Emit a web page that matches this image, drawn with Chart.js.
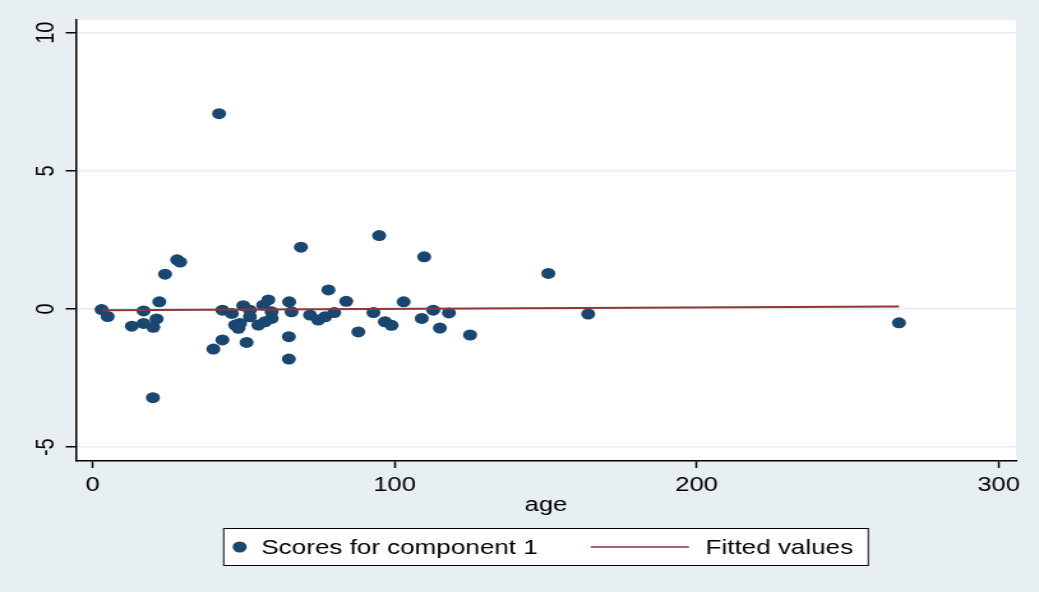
<!DOCTYPE html>
<html>
<head>
<meta charset="utf-8">
<script src="https://cdn.jsdelivr.net/npm/chart.js@4/dist/chart.umd.min.js"></script>
<style>
  html, body { margin: 0; padding: 0; background: #e8eff2; overflow: hidden; }
</style>
</head>
<body>
<!-- laid out at 814 px, shown 1039 px wide (a 5.5 x 4 in graph on a wide page) -->
<canvas id="c" width="814" height="592" style="display:block;width:1039px;height:592px"></canvas>
<script>
// --- data -------------------------------------------------------------
const ages = [3.0, 5.0, 13.0, 16.9, 16.9, 20.1, 21.2, 20.0, 22.1, 24.0,
              28.0, 29.0, 40.0, 41.9, 43.0, 43.0, 46.1, 47.2, 48.3, 48.8,
              51.0, 49.9, 52.1, 52.1, 54.9, 57.1, 56.5, 58.2, 59.3, 59.3,
              65.1, 65.9, 65.0, 65.0, 69.0, 72.0, 74.7, 77.0, 78.1, 80.0,
              84.0, 88.0, 93.0, 94.9, 96.8, 99.0, 103.0, 109.0, 109.8, 112.8,
              115.0, 118.0, 125.0, 150.9, 164.1, 267.0];
const scores = [-0.02, -0.27, -0.62, -0.07, -0.52, -0.66, -0.36, -3.21, 0.26, 1.26,
                1.78, 1.70, -1.45, 7.07, -0.04, -1.12, -0.16, -0.58, -0.70, -0.52,
                -1.21, 0.12, -0.04, -0.28, -0.58, -0.46, 0.14, 0.33, -0.10, -0.34,
                0.26, -0.10, -1.00, -1.81, 2.24, -0.22, -0.40, -0.28, 0.69, -0.13,
                0.28, -0.83, -0.13, 2.66, -0.46, -0.59, 0.26, -0.34, 1.89, -0.04,
                -0.69, -0.14, -0.94, 1.29, -0.18, -0.50];
const fitAges = [3, 267];
const fitValues = [-0.04, 0.09];
const xTicks = [0, 100, 200, 300];
const yTicks = [-5, 0, 5, 10];
const seriesNames = ['Scores for component 1', 'Fitted values'];
const xTitle = 'age';

// --- style ------------------------------------------------------------
const NAVY = '#1a476f';
const MAROON = '#90353b';
const PAGE_BG = '#e8eff2';
const GRID = '#e5edf0';
const FONT = '"Liberation Sans", Arial, Helvetica, sans-serif';
const FONT_SIZE = 20;

const scatterPts = ages.map((a, i) => ({ x: a, y: scores[i] }));
const fitPts = fitAges.map((a, i) => ({ x: a, y: fitValues[i] }));

// page background + white plot region
const backdrop = {
  id: 'backdrop',
  beforeDraw(chart) {
    const { ctx, chartArea: a } = chart;
    ctx.save();
    ctx.fillStyle = PAGE_BG;
    ctx.fillRect(0, 0, chart.width, chart.height);
    ctx.fillStyle = '#ffffff';
    ctx.fillRect(a.left, a.top, a.right - a.left, a.bottom - a.top);
    ctx.restore();
  }
};

// vertical (rotated) y tick labels, placed by the y scale
const yLabels = {
  id: 'yLabels',
  afterDraw(chart) {
    const { ctx } = chart;
    const y = chart.scales.y;
    ctx.save();
    ctx.fillStyle = '#000';
    ctx.font = `${FONT_SIZE}px ${FONT}`;
    ctx.textAlign = 'center';
    ctx.textBaseline = 'alphabetic';
    y.ticks.forEach(t => {
      const py = y.getPixelForValue(t.value);
      ctx.save();
      ctx.translate(42, py);
      ctx.rotate(-Math.PI / 2);
      ctx.fillText(String(t.value), 0, 0);
      ctx.restore();
    });
    ctx.restore();
  }
};

// boxed legend below the axis title
const boxLegend = {
  id: 'boxLegend',
  afterDraw(chart) {
    const { ctx, chartArea: a } = chart;
    const ds = chart.data.datasets;
    const w = 506, h = 38, top = 528;
    const left = (a.left + a.right) / 2 - w / 2;
    ctx.save();
    ctx.fillStyle = '#ffffff';
    ctx.fillRect(left, top, w, h);
    ctx.strokeStyle = '#000';
    ctx.lineWidth = 1;
    ctx.strokeRect(left + 0.5, top + 0.5, w - 1, h - 1);
    const cy = top + h / 2;
    ctx.font = `${FONT_SIZE + 0.4}px ${FONT}`;
    ctx.fillStyle = '#000';
    ctx.textAlign = 'left';
    ctx.textBaseline = 'alphabetic';
    // marker entry
    ctx.beginPath();
    ctx.arc(left + 13, cy, 5.5, 0, Math.PI * 2);
    ctx.fillStyle = ds[0].backgroundColor;
    ctx.fill();
    ctx.fillStyle = '#000';
    ctx.fillText(ds[0].label, left + 30, cy + 7);
    // line entry
    ctx.beginPath();
    ctx.moveTo(left + 288, cy);
    ctx.lineTo(left + 365, cy);
    ctx.strokeStyle = ds[1].borderColor;
    ctx.lineWidth = 1.5;
    ctx.stroke();
    ctx.fillText(ds[1].label, left + 378, cy + 7);
    ctx.restore();
  }
};

const canvas = document.getElementById('c');
new Chart(canvas, {
  type: 'scatter',
  data: {
    datasets: [
      {
        label: seriesNames[0],
        data: scatterPts,
        backgroundColor: NAVY,
        borderColor: NAVY,
        borderWidth: 0,
        pointRadius: 5.5,
        order: 2
      },
      {
        label: seriesNames[1],
        data: fitPts,
        showLine: true,
        borderColor: MAROON,
        backgroundColor: MAROON,
        borderWidth: 2,
        pointRadius: 0,
        order: 1
      }
    ]
  },
  plugins: [backdrop, yLabels, boxLegend],
  options: {
    responsive: false,
    devicePixelRatio: 1,
    animation: false,
    events: [],
    layout: { padding: { left: 0, right: 18, top: 20, bottom: 75 } },
    plugins: {
      legend: { display: false },
      tooltip: { enabled: false },
      title: { display: false }
    },
    scales: {
      x: {
        type: 'linear',
        min: -5.49,
        max: 305.75,
        afterBuildTicks: s => { s.ticks = xTicks.map(v => ({ value: v })); },
        afterFit: s => { s.height = 56; },
        grid: {
          drawOnChartArea: false,
          drawTicks: true,
          tickLength: 7,
          tickColor: '#000',
          tickWidth: 1.5,
          color: '#000'
        },
        border: { display: true, color: '#000', width: 1.5 },
        ticks: {
          color: '#000',
          font: { family: FONT, size: FONT_SIZE },
          padding: 5,
          maxRotation: 0,
          minRotation: 0
        },
        title: {
          display: true,
          text: xTitle,
          color: '#000',
          font: { family: FONT, size: FONT_SIZE },
          padding: 0
        }
      },
      y: {
        type: 'linear',
        min: -5.5,
        max: 10.46,
        afterBuildTicks: s => { s.ticks = yTicks.map(v => ({ value: v })); },
        afterFit: s => { s.width = 59.5; },
        grid: {
          drawOnChartArea: true,
          drawTicks: true,
          tickLength: 8,
          tickColor: '#000',
          tickWidth: 1.5,
          color: GRID,
          lineWidth: 1.5
        },
        border: { display: true, color: '#000', width: 1.5 },
        ticks: { display: false }
      }
    }
  }
});
// keep the wide display size
canvas.style.width = '1039px';
canvas.style.height = '592px';
</script>
</body>
</html>
